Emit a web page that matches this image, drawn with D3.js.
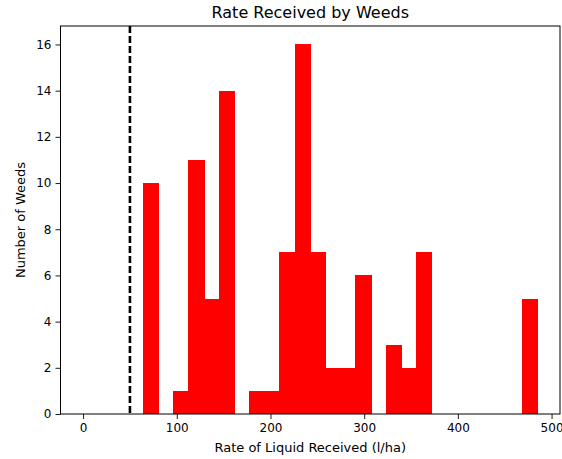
<!DOCTYPE html>
<html>
<head>
<meta charset="utf-8">
<script src="https://d3js.org/d3.v7.min.js"></script>
<style>
  body { margin: 0; background: #fff; }
  svg { font-family: "DejaVu Sans", sans-serif; }
</style>
</head>
<body>
<svg id="chart" width="562" height="459"></svg>
<script>
// histogram bin edges (l/ha) and counts per bin
const binEdges = [63.9, 80.1, 96.3, 112.5, 128.7, 144.9, 161.0, 177.2, 193.4, 209.6,
  225.8, 242.0, 258.2, 274.4, 290.6, 306.8, 323.0, 339.1, 355.3, 371.5,
  387.7, 403.9, 420.1, 436.3, 452.5, 468.7, 484.9];
const counts = [10, 0, 1, 11, 5, 14, 0, 1, 1, 7,
  16, 7, 2, 2, 6, 0, 3, 2, 7, 0,
  0, 0, 0, 0, 0, 5];
const thresholdRate = 50;
const xTicks = [0, 100, 200, 300, 400, 500];
const yTicks = [0, 2, 4, 6, 8, 10, 12, 14, 16];

const svg = d3.select("#chart");
const mLeft = 60.5, mRight = 560, mTop = 26, mBottom = 414;

const x = d3.scaleLinear().domain([-24.1, 509]).range([mLeft, mRight]);
const y = d3.scaleLinear().domain([0, 16.8]).range([mBottom, mTop]);

let bins = counts.map((c, i) => ({x0: binEdges[i], x1: binEdges[i + 1], count: c}));

svg.append("g")
  .attr("shape-rendering", "crispEdges")
  .selectAll("rect")
  .data(bins.filter(d => d.count > 0))
  .enter().append("rect")
  .attr("x", d => Math.round(x(d.x0)))
  .attr("width", d => Math.round(x(d.x1)) - Math.round(x(d.x0)) + 1)
  .attr("y", d => Math.round(y(d.count)))
  .attr("height", d => Math.round(y(0)) - Math.round(y(d.count)))
  .attr("fill", "#ff0000");

// dashed threshold line
svg.append("line")
  .attr("x1", x(thresholdRate)).attr("x2", x(thresholdRate))
  .attr("y1", mTop).attr("y2", mBottom)
  .attr("stroke", "#000")
  .attr("stroke-width", 2.6)
  .attr("stroke-dasharray", "7,3");

// axes
const xAxis = d3.axisBottom(x).tickValues(xTicks).tickSize(5).tickPadding(4);
const yAxis = d3.axisLeft(y).tickValues(yTicks).tickSize(5).tickPadding(4);

const gx = svg.append("g").attr("transform", `translate(0,${mBottom})`).call(xAxis);
const gy = svg.append("g").attr("transform", `translate(${mLeft},0)`).call(yAxis);
[gx, gy].forEach(g => {
  g.select(".domain").remove();
  g.selectAll("text").attr("font-size", 12).attr("fill", "#000").style("font-family", "DejaVu Sans");
  g.selectAll("line").attr("stroke", "#000").attr("stroke-width", 0.9);
});

// frame
svg.append("rect")
  .attr("x", mLeft).attr("y", mTop)
  .attr("width", mRight - mLeft).attr("height", mBottom - mTop)
  .attr("fill", "none")
  .attr("stroke", "#000")
  .attr("stroke-width", 1);

svg.append("text")
  .attr("x", (mLeft + mRight) / 2).attr("y", 18)
  .attr("text-anchor", "middle")
  .attr("font-size", 16)
  .text("Rate Received by Weeds");

svg.append("text")
  .attr("x", (mLeft + mRight) / 2).attr("y", 452)
  .attr("text-anchor", "middle")
  .attr("font-size", 13)
  .text("Rate of Liquid Received (l/ha)");

svg.append("text")
  .attr("transform", `translate(25,${(mTop + mBottom) / 2}) rotate(-90)`)
  .attr("text-anchor", "middle")
  .attr("font-size", 13)
  .text("Number of Weeds");
</script>
</body>
</html>
